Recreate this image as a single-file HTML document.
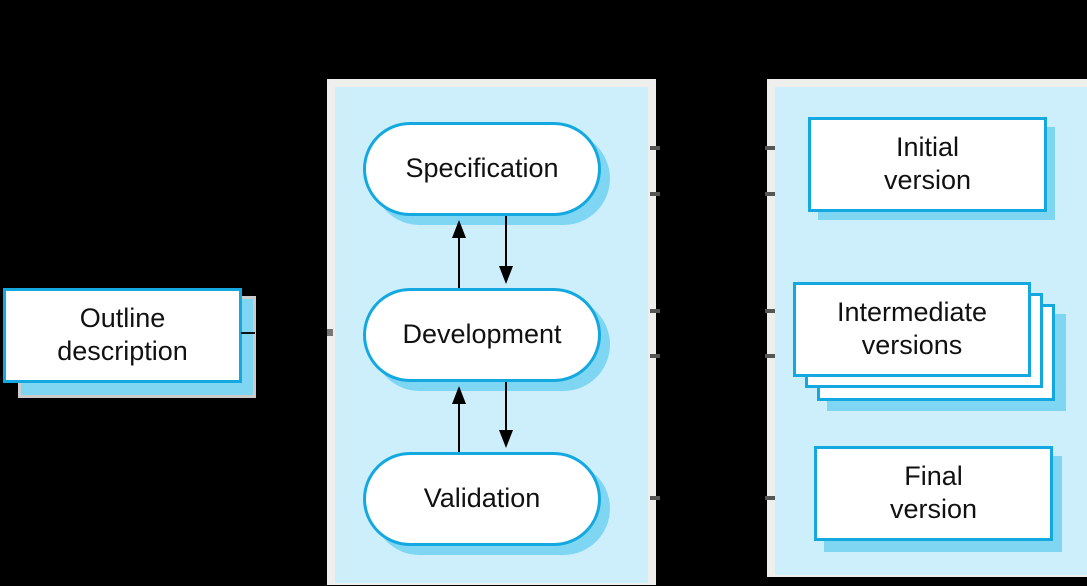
<!DOCTYPE html>
<html><head><style>
body{margin:0;background:#000;width:1087px;height:586px;overflow:hidden;position:relative;font-family:"Liberation Sans",sans-serif}
div{position:absolute;box-sizing:border-box}
.panel{background:#cdeefb;border:8px solid #eeeeec}
.sh{background:#7fd6f3}
.box{background:#fff;border:3px solid #14a8e0;display:flex;align-items:center;justify-content:center;text-align:center;font-size:27px;line-height:33px;color:#111;padding-bottom:2px}
.pill{border-radius:47px}
</style></head><body>
<div class="panel" style="left:327px;top:79px;width:329px;height:506px;border-bottom-width:2px"></div>
<div class="panel" style="left:767px;top:79px;width:330px;height:498px;border-right:none;border-bottom-width:2px"></div>

<div class="sh" style="left:18px;top:296px;width:238px;height:102px;border:3px solid #ccc;background:#7fd6f3"></div>
<div class="box" style="left:3px;top:288px;width:239px;height:95px">Outline<br>description</div>
<div style="left:241px;top:332px;width:14px;height:2px;background:#111"></div>
<div style="left:327px;top:329px;width:6px;height:7px;background:#777"></div>

<div class="sh pill" style="left:373px;top:132px;width:237px;height:93px"></div>
<div class="box pill" style="left:363px;top:122px;width:238px;height:94px">Specification</div>
<div class="sh pill" style="left:373px;top:298px;width:237px;height:93px"></div>
<div class="box pill" style="left:363px;top:288px;width:238px;height:94px">Development</div>
<div class="sh pill" style="left:373px;top:462px;width:237px;height:93px"></div>
<div class="box pill" style="left:363px;top:452px;width:238px;height:94px">Validation</div>

<svg width="1087" height="586" style="position:absolute;left:0;top:0">
<g stroke="#000" stroke-width="2" fill="#000">
<line x1="459" y1="288" x2="459" y2="232"/><polygon points="452,238 466,238 459,220" stroke="none"/>
<line x1="506" y1="216" x2="506" y2="270"/><polygon points="499,266 513,266 506,284" stroke="none"/>
<line x1="459" y1="452" x2="459" y2="398"/><polygon points="452,404 466,404 459,386" stroke="none"/>
<line x1="506" y1="382" x2="506" y2="434"/><polygon points="499,430 513,430 506,448" stroke="none"/>
</g>
<g fill="#555">
<rect x="650" y="146" width="10" height="4"/><rect x="765" y="146" width="10" height="4"/>
<rect x="650" y="192" width="10" height="4"/><rect x="765" y="192" width="10" height="4"/>
<rect x="650" y="309" width="10" height="4"/><rect x="765" y="309" width="10" height="4"/>
<rect x="650" y="354" width="10" height="4"/><rect x="765" y="354" width="10" height="4"/>
<rect x="650" y="496" width="10" height="4"/><rect x="765" y="496" width="10" height="4"/>
</g>
</svg>

<div class="sh" style="left:818px;top:127px;width:237px;height:93px"></div>
<div class="box" style="left:808px;top:117px;width:239px;height:95px">Initial<br>version</div>

<div class="sh" style="left:827px;top:314px;width:239px;height:97px"></div>
<div class="box" style="left:817px;top:304px;width:238px;height:97px"></div>
<div class="box" style="left:805px;top:293px;width:238px;height:95px"></div>
<div class="box" style="left:793px;top:282px;width:238px;height:95px">Intermediate<br>versions</div>

<div class="sh" style="left:824px;top:456px;width:238px;height:96px"></div>
<div class="box" style="left:814px;top:446px;width:239px;height:95px">Final<br>version</div>
</body></html>
